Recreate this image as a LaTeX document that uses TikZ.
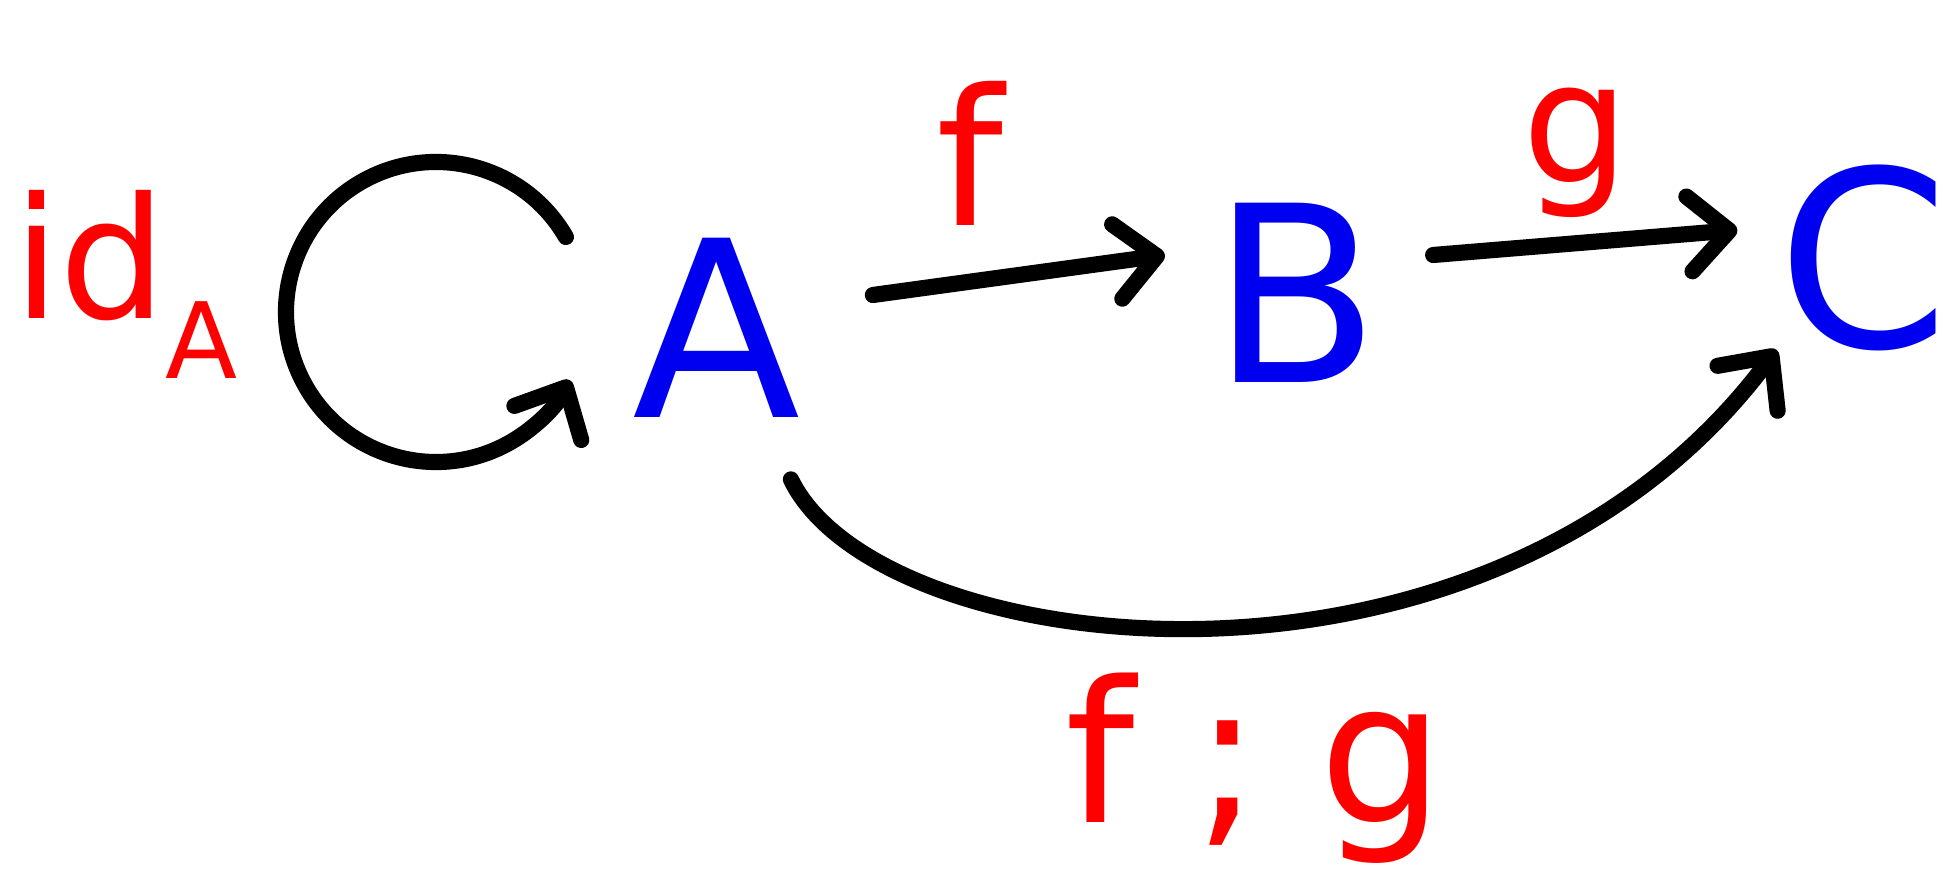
\documentclass[tikz,border=0pt]{standalone}
\usepackage{fontspec}
\setmainfont{DejaVu Sans}
\usetikzlibrary{arrows.meta,positioning,calc}
\definecolor{objcolor}{RGB}{0,0,240}
\definecolor{mapcolor}{RGB}{255,0,0}
\tikzset{
  objnode/.style={text=objcolor, inner sep=2pt, font=\fontsize{70}{80}\selectfont},
  lblnode/.style={text=mapcolor, inner sep=1pt, font=\fontsize{#1}{#1}\selectfont},
  arrln/.style={-{Straight Barb[length=4mm,width=7.5mm,line cap=round,line join=round]},
    line width=4.6pt, line cap=round, line join=round, black},
}

\begin{document}
\begin{tikzpicture}
  \useasboundingbox (0,0) rectangle (19.54,8.83);
  \node[objnode] (A) at (7.17,5.55) {A};
  \node[objnode] (B) at (12.96,5.90) {B};
  \node[objnode] (C) at (18.63,6.25) {C};
  \coordinate (loopS) at ($(4.36,5.71)+(30:1.5)$);
  \node[lblnode=48] (idA) at (0.90,6.27) {id};
  \node[lblnode=30, anchor=north west] (idsub) at ([xshift=-1mm,yshift=2.8mm]idA.south east) {A};
  \node[lblnode=54] (fl) at (9.70,7.30) {f};
  \node[lblnode=48] (gl) at (15.76,7.30) {g};
  \node[lblnode=56] (fgl) at (12.55,1.15) {f\hspace{0.3em};\hspace{0.3em}g};
  % arrows
  \draw[arrln] (loopS) arc[start angle=30, end angle=333, radius=1.5];
  \draw[arrln] ([xshift=6.4mm,yshift=3.3mm]A.east) -- ([xshift=-3.9mm,yshift=3.8mm]B.west);
  \draw[arrln] ([xshift=4.5mm,yshift=3.8mm]B.east) -- ([xshift=-3.2mm,yshift=2.8mm]C.west);
  \draw[arrln] ([xshift=-1.8mm,yshift=-5.4mm]A.south east) .. controls (8.8,2.2) and (14.9,1.5) .. ([xshift=0.7mm,yshift=0.9mm]C.south west);
\end{tikzpicture}
\end{document}
